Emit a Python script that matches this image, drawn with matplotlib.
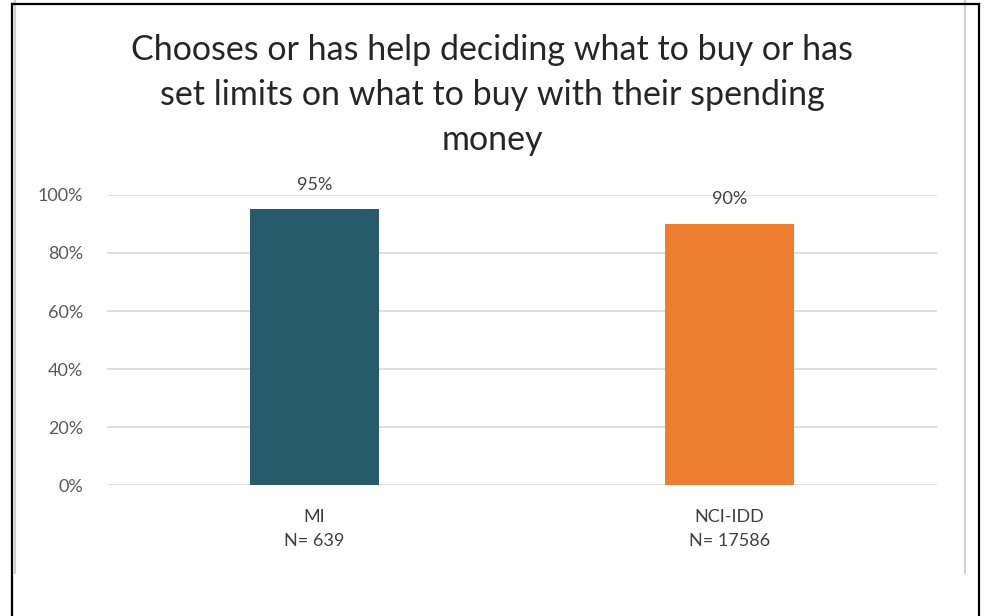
import matplotlib.pyplot as plt
from matplotlib.lines import Line2D

# data
categories = ["MI\nN= 639", "NCI-IDD\nN= 17586"]
values = [0.95, 0.90]
value_labels = ["95%", "90%"]
bar_colors = ["#275B6B", "#ED7D31"]
yticks = [0, 0.2, 0.4, 0.6, 0.8, 1.0]
ytick_labels = ["0%", "20%", "40%", "60%", "80%", "100%"]
title = "Chooses or has help deciding what to buy or has\nset limits on what to buy with their spending\nmoney"

plt.rcParams['font.family'] = ['Lato', 'DejaVu Sans']

W, H = 984, 616
fig = plt.figure(figsize=(W / 100, H / 100), dpi=100)
ax = fig.add_axes([107 / W, 1 - 485 / H, (937 - 107) / W, (485 - 195) / H])

x = range(len(categories))
ax.bar(x, values, width=0.313, color=bar_colors, zorder=3)
for xi, v, lab in zip(x, values, value_labels):
    ax.text(xi, v + 0.058, lab, ha='center', va='bottom', fontsize=13, color='#404040', zorder=4)

ax.set_xlim(-0.5, 1.5)
ax.set_ylim(0, 1.0)
ax.set_yticks(yticks)
ax.set_yticklabels(ytick_labels, fontsize=13, color='#595959')
ax.set_xticks(list(x))
ax.set_xticklabels(categories, fontsize=13, color='#404040', linespacing=1.65)
ax.tick_params(axis='both', length=0)
ax.tick_params(axis='y', pad=17)
ax.tick_params(axis='x', pad=17)
ax.grid(axis='y', color='#D9D9D9', linewidth=1.2, zorder=0)
for s in ax.spines.values():
    s.set_visible(False)

fig.text(0.5, 1 - 95 / H, title, ha='center', va='center', fontsize=24.5,
         color='#262626', linespacing=1.5)

# frame lines
def fline(x0, y0, x1, y1, color, lw):
    fig.add_artist(Line2D([x0 / W, x1 / W], [1 - y0 / H, 1 - y1 / H],
                          color=color, linewidth=lw, transform=fig.transFigure))

fline(15, 0, 15, 573, '#D0D0D0', 1.5)
fline(965, 0, 965, 573, '#D0D0D0', 1.5)
fline(12, 4, 979, 4, 'black', 1.6)
fline(12, 4, 12, 616, 'black', 1.6)
fline(979, 4, 979, 616, 'black', 1.6)

fig.savefig('out.png', dpi=100)
